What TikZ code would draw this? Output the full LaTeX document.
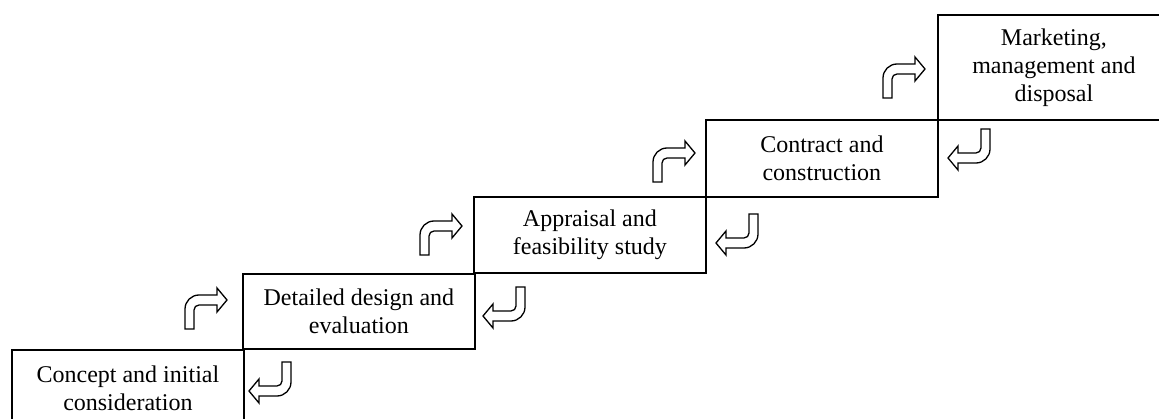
\documentclass[tikz,border=0pt]{standalone}
\usepackage{fontspec}
\setmainfont{Liberation Serif}
\begin{document}
\begin{tikzpicture}[x=1pt,y=1pt,
  stage/.style={draw=black,line width=1.8pt,minimum width=232pt,inner sep=0pt,
    align=center,font=\fontsize{24}{28}\selectfont,anchor=north west},
  pics/upturn/.style={code={
    \draw[line width=1.3pt,fill=white,line join=miter]
      (0,0) -- (0,20) arc[start angle=180,end angle=90,radius=14pt]
      -- (32,34) -- (32,41) -- (42,29) -- (32,17) -- (32,24) -- (14,24)
      arc[start angle=90,end angle=180,radius=5pt] -- (9,0) -- cycle;
  }}]
\useasboundingbox (0,0) rectangle (1159,-419);
\clip (0,0) rectangle (1159,-419);

% the five stages, climbing to the right
\node[stage,minimum height=76pt]  (s1) at (11,-349)  {Concept and initial\\consideration};
\node[stage,minimum height=75pt]  (s2) at (242,-273) {Detailed design and\\evaluation};
\node[stage,minimum height=76pt]  (s3) at (473,-196) {Appraisal and\\feasibility study};
\node[stage,minimum height=77pt]  (s4) at (705,-119) {Contract and\\construction};
\node[stage,minimum height=105pt] (s5) at (937,-14)  {Marketing,\\management and\\disposal};

% forward (up) turn arrows
\pic at (185,-329) {upturn};
\pic at (420,-255) {upturn};
\pic at (653,-182) {upturn};
\pic at (883,-98)  {upturn};

% feedback (down) turn arrows
\pic[rotate=180] at (291,-362) {upturn};
\pic[rotate=180] at (525,-287) {upturn};
\pic[rotate=180] at (758,-214) {upturn};
\pic[rotate=180] at (990,-129) {upturn};
\end{tikzpicture}
\end{document}
